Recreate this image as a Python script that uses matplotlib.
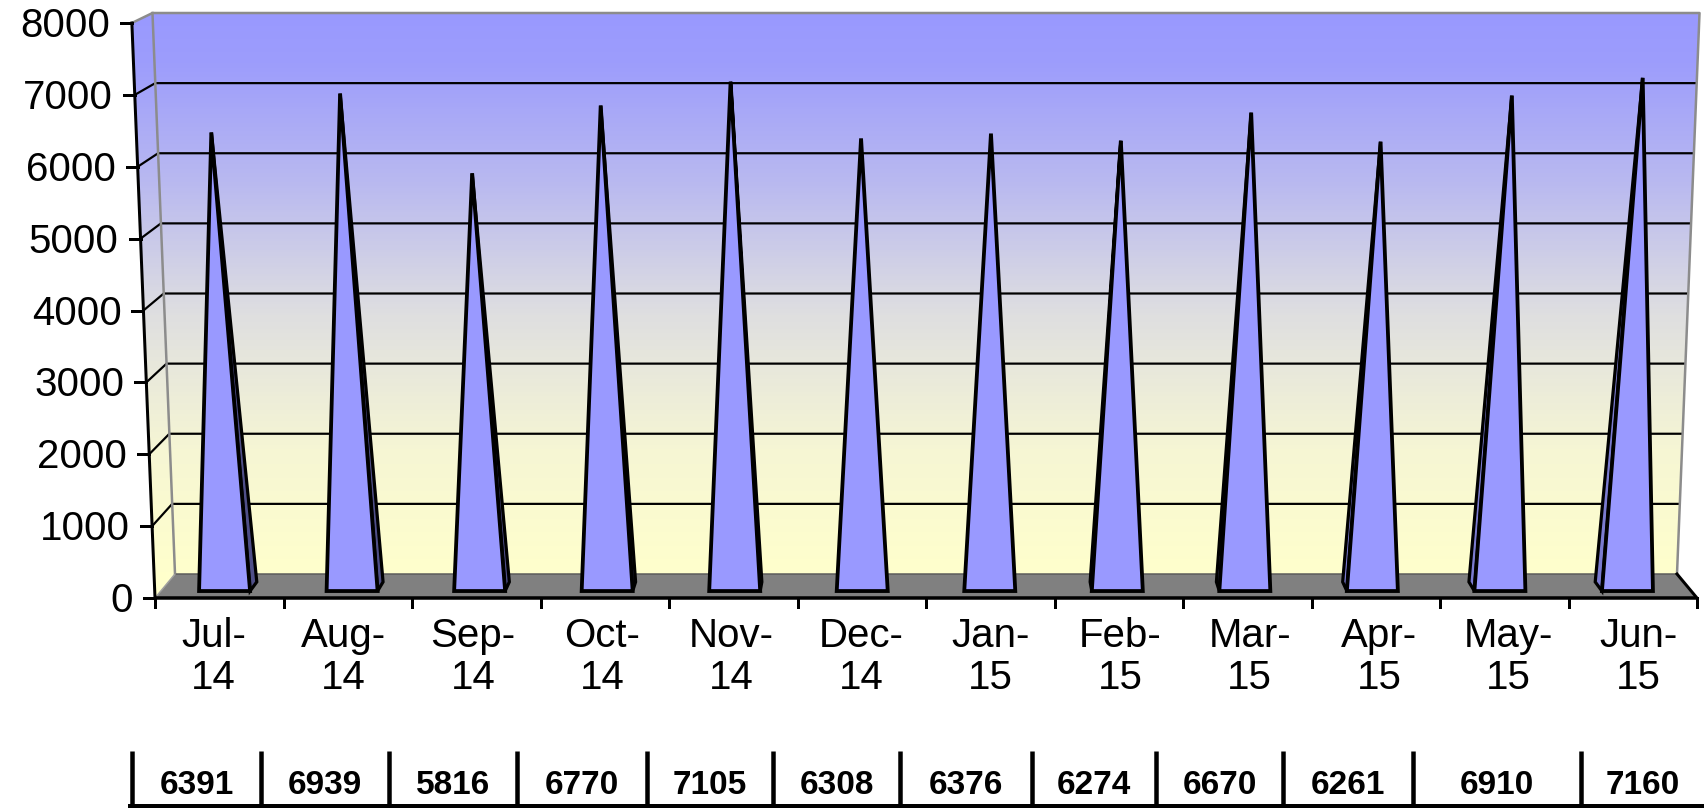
import numpy as np
import matplotlib
matplotlib.use("Agg")
import matplotlib.pyplot as plt
from matplotlib.patches import Polygon
from matplotlib.colors import LinearSegmentedColormap

# ---------------- data ----------------
categories = ["Jul-\n14", "Aug-\n14", "Sep-\n14", "Oct-\n14", "Nov-\n14", "Dec-\n14",
              "Jan-\n15", "Feb-\n15", "Mar-\n15", "Apr-\n15", "May-\n15", "Jun-\n15"]
values = [6391, 6939, 5816, 6770, 7105, 6308, 6376, 6274, 6670, 6261, 6910, 7160]
y_ticks = [0, 1000, 2000, 3000, 4000, 5000, 6000, 7000, 8000]
table_labels = [str(v) for v in values]

# ---------------- layout / style ----------------
W, H = 1704, 809
N = len(values)
VMAX = 8000
FRONT_Y0, BACK_Y0 = 598, 574
FRONT_SCALE, BACK_SCALE = 575 / VMAX, 561 / VMAX
CX = 926
HW_FRONT, HW_BACK = 771, 751
K_PERSP = 0.03
PYR_HALF = 0.2
D_FRONT, D_BACK = 0.29, 0.67
D_MID = (D_FRONT + D_BACK) / 2
LABEL_DEPTH = -0.3
TABLE_BOUNDS = [132, 261, 389, 517, 647, 773, 900, 1032, 1156, 1283, 1413, 1581, 1704]

FACE = "#9999FF"
DARK_FACE = "#4F4F88"
LIGHT_FACE = "#7B7BD0"
FLOOR = "#808080"
PX = 0.72  # points per pixel at dpi 100

plt.rcParams["font.family"] = ["Liberation Sans", "DejaVu Sans"]


def proj(u, v, d):
    y0 = FRONT_Y0 + (BACK_Y0 - FRONT_Y0) * d
    s = FRONT_SCALE + (BACK_SCALE - FRONT_SCALE) * d
    hw = HW_FRONT + (HW_BACK - HW_FRONT) * d
    x = CX + (2 * u / N - 1) * hw * (1 + K_PERSP * v / VMAX)
    return (x, y0 - v * s)


fig = plt.figure(figsize=(W / 100, H / 100), dpi=100)
ax = fig.add_axes([0, 0, 1, 1])
ax.set_xlim(0, W)
ax.set_ylim(H, 0)
ax.axis("off")

# ---------------- walls with gradient ----------------
wall_poly = [proj(0, 0, 0), proj(0, VMAX, 0), proj(0, VMAX, 1),
             proj(N, VMAX, 1), proj(N, 0, 1), proj(0, 0, 1)]
cmap = LinearSegmentedColormap.from_list(
    "wall", [(0.0, "#FFFFCC"), (0.22, "#F6F6D4"), (0.46, "#DFDFE0"),
             (0.70, "#B9B9F0"), (0.91, "#9D9DFC"), (1.0, "#9999FF")])
ys = np.arange(H) + 0.5
top_y = proj(0, VMAX, 1)[1]
t = np.clip((BACK_Y0 - ys) / (BACK_Y0 - top_y), 0, 1)
img = ax.imshow(t[:, None], cmap=cmap, vmin=0, vmax=1, extent=[0, W, H, 0],
                aspect="auto", zorder=0, interpolation="bilinear")
clip = Polygon(wall_poly, closed=True, transform=ax.transData, facecolor="none", edgecolor="none")
ax.add_patch(clip)
img.set_clip_path(clip)

# gridlines
for v in y_ticks[1:-1]:
    p0, p1, p2 = proj(0, v, 0), proj(0, v, 1), proj(N, v, 1)
    ax.plot([p0[0], p1[0], p2[0]], [p0[1], p1[1], p2[1]], color="black",
            lw=2.2 * PX, zorder=2, solid_capstyle="butt")

# wall borders (grey)
b = [proj(0, VMAX, 0), proj(0, VMAX, 1), proj(N, VMAX, 1), proj(N, 0, 1)]
ax.plot([p[0] for p in b], [p[1] for p in b], color="#8C8C8C", lw=2.5 * PX, zorder=3)
e = [proj(0, 0, 1), proj(0, VMAX, 1)]
ax.plot([p[0] for p in e], [p[1] for p in e], color="#8C8C8C", lw=2.5 * PX, zorder=3)

# floor
floor = [proj(0, 0, 0), proj(N, 0, 0), proj(N, 0, 1), proj(0, 0, 1)]
ax.add_patch(Polygon(floor, closed=True, facecolor=FLOOR, edgecolor="none", zorder=3))
ax.plot([floor[3][0], floor[2][0]], [floor[3][1], floor[2][1]], color="#5A5A5A", lw=1.5 * PX, zorder=3)
ax.plot([floor[0][0], floor[3][0]], [floor[0][1], floor[3][1]], color="#A0A0A0", lw=1.5 * PX, zorder=3)
ax.plot([floor[1][0], floor[2][0]], [floor[1][1], floor[2][1]], color="black", lw=3 * PX, zorder=4)
ax.plot([floor[0][0], floor[1][0]], [floor[0][1], floor[1][1]], color="black", lw=3.5 * PX, zorder=6,
        solid_capstyle="butt")

# value axis
a0, a1 = proj(0, 0, 0), proj(0, VMAX, 0)
ax.plot([a0[0], a1[0]], [a0[1], a1[1]], color="black", lw=3 * PX, zorder=6)
fs_y = 29
for v in y_ticks:
    x, y = proj(0, v, 0)
    ax.plot([x - 11, x], [y, y], color="black", lw=3 * PX, zorder=6)
    ax.text(x - 22, y + 0.70 * fs_y / PX / 2, f"{v}", ha="right", va="baseline",
            fontsize=fs_y, color="black")

# category ticks and labels
for k in range(N + 1):
    x, y = proj(k, 0, 0)
    ax.plot([x, x], [y, y + 9], color="black", lw=3 * PX, zorder=6)
for i, lab in enumerate(categories):
    x, _ = proj(i + 0.5, 0, LABEL_DEPTH)
    ax.text(x, 617, lab, ha="center", va="top", fontsize=29, linespacing=1.12,
            color="black")

# pyramids
for i, v in enumerate(values):
    uc = i + 0.5
    ul, ur = uc - PYR_HALF, uc + PYR_HALF
    fl, fr = proj(ul, 0, D_FRONT), proj(ur, 0, D_FRONT)
    bl, br = proj(ul, 0, D_BACK), proj(ur, 0, D_BACK)
    apex = proj(uc, v, D_MID)
    if br[0] > fr[0] + 0.5:
        ax.add_patch(Polygon([fr, br, apex], closed=True, facecolor=DARK_FACE,
                             edgecolor="black", lw=3.2 * PX, zorder=7))
    if bl[0] < fl[0] - 0.5:
        ax.add_patch(Polygon([fl, bl, apex], closed=True, facecolor=LIGHT_FACE,
                             edgecolor="black", lw=3.2 * PX, zorder=7))
    ax.add_patch(Polygon([fl, fr, apex], closed=True, facecolor=FACE,
                         edgecolor="black", lw=3.8 * PX, zorder=8))

# data table
TABLE_TOP, TABLE_BOTTOM = 751, 806
for xb in TABLE_BOUNDS[:-1]:
    ax.plot([xb, xb], [TABLE_TOP, TABLE_BOTTOM], color="black", lw=4.5 * PX,
            solid_capstyle="butt", zorder=5)
ax.plot([TABLE_BOUNDS[0] - 2, TABLE_BOUNDS[-1]], [TABLE_BOTTOM, TABLE_BOTTOM], color="black",
        lw=4 * PX, zorder=5)
for i, lab in enumerate(table_labels):
    xc = (TABLE_BOUNDS[i] + TABLE_BOUNDS[i + 1]) / 2
    ax.text(xc, 794, lab, ha="center", va="baseline", fontsize=24,
            fontweight="bold", color="black")

fig.savefig("out.png", dpi=100)
